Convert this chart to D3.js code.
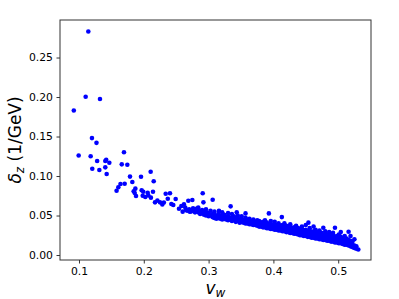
<!DOCTYPE html>
<html>
<head>
<meta charset="utf-8">
<script src="https://cdn.jsdelivr.net/npm/d3@7"></script>
<style>
  body { margin: 0; background: #fff; }
  svg { display: block; }
  text { font-family: "DejaVu Sans", sans-serif; fill: #000; }
</style>
</head>
<body>
<div id="chart"></div>
<script>
// tick values
const xTicks = [0.1, 0.2, 0.3, 0.4, 0.5];
const yTicks = [0.00, 0.05, 0.10, 0.15, 0.20, 0.25];

// scattered points at low v_w  [v_w, delta_z]
const sparsePoints = [
  [0.092,0.183],[0.0995,0.126],[0.1103,0.2004],[0.1144,0.283],[0.118,0.125],[0.120,0.148],
  [0.1205,0.1093],[0.127,0.142],[0.128,0.119],[0.1314,0.1076],[0.1324,0.1975],[0.1406,0.119],
  [0.142,0.1206],[0.1406,0.111],[0.1427,0.1025],[0.1468,0.1168],[0.158,0.0814],[0.1607,0.0857],
  [0.164,0.0899],[0.166,0.1148],[0.1694,0.130],[0.1705,0.0903],[0.1746,0.1143],[0.1787,0.0993],
  [0.1823,0.0924],[0.1844,0.0806],[0.187,0.084],[0.186,0.0785],[0.188,0.0747],[0.1957,0.099],
  [0.1967,0.0819],[0.1992,0.080],[0.1983,0.075],[0.2023,0.0734],[0.206,0.0789],[0.207,0.0755],
  [0.2106,0.1055],[0.2153,0.0933],[0.2142,0.080],[0.211,0.0726],[0.2173,0.0667],[0.221,0.069],
  [0.225,0.0667],[0.2286,0.0641],[0.231,0.0665],[0.2338,0.0776],[0.237,0.0713],[0.2404,0.0781],
  [0.2425,0.0646],[0.2455,0.0633],[0.2492,0.0709],[0.2543,0.0586],[0.258,0.062],[0.26,0.0549],
  [0.262,0.0641],[0.265,0.0570],[0.2687,0.0687],[0.271,0.0549],[0.2749,0.0696],[0.276,0.0590],
  [0.282,0.0587],[0.264,0.060],[0.267,0.056],[0.270,0.058],[0.273,0.055],[0.277,0.057],[0.279,0.054],
  [0.2909,0.0781],[0.292,0.0667],[0.3063,0.070],[0.334,0.0616],[0.316,0.056],[0.3434,0.054],
  [0.357,0.0527],[0.393,0.0527],[0.413,0.048],[0.454,0.041],[0.477,0.0346],[0.495,0.0346],
  [0.516,0.0295],[0.525,0.0199]
];

// dense band, one row per v_w: [v_w, delta_z values...]
const bandRows = [
  [0.280,0.055,0.058],[0.284,0.054,0.060],[0.287,0.056,0.052],[0.290,0.053,0.057],
  [0.293,0.051,0.055],[0.296,0.050,0.054,0.058],[0.300,0.049,0.053],[0.303,0.050,0.056],
  [0.306,0.048,0.052],[0.309,0.047,0.051,0.055],[0.312,0.049,0.046],[0.315,0.047,0.052],
  [0.318,0.046,0.050],[0.321,0.045,0.049,0.054],[0.324,0.046,0.051],[0.327,0.045,0.048],
  [0.330,0.044,0.049,0.053],[0.333,0.045,0.047],[0.336,0.043,0.047,0.052],[0.339,0.044,0.049],
  [0.342,0.042,0.046],[0.345,0.043,0.047,0.050],[0.348,0.041,0.045],[0.351,0.042,0.046,0.049],
  [0.354,0.041,0.044],[0.357,0.040,0.043,0.047],[0.360,0.040,0.045],[0.363,0.039,0.042,0.046],
  [0.366,0.039,0.043],[0.369,0.038,0.041,0.045],[0.372,0.038,0.042],[0.375,0.037,0.040,0.044],
  [0.378,0.036,0.039,0.043],[0.381,0.036,0.041],[0.384,0.035,0.038,0.042],[0.387,0.035,0.039,0.044],
  [0.390,0.034,0.037,0.041],[0.393,0.034,0.038],[0.396,0.033,0.036,0.040,0.043],[0.399,0.033,0.037],
  [0.402,0.032,0.035,0.039,0.042],[0.405,0.032,0.034,0.038],[0.408,0.031,0.035,0.040],
  [0.411,0.031,0.033,0.037],[0.414,0.030,0.034,0.038],[0.417,0.030,0.032,0.036,0.040],
  [0.420,0.029,0.033,0.037],[0.423,0.029,0.031,0.035],[0.426,0.028,0.032,0.036,0.039],
  [0.429,0.028,0.030,0.034],[0.432,0.027,0.031,0.035],[0.435,0.027,0.029,0.033,0.037],
  [0.438,0.026,0.030,0.034],[0.441,0.025,0.028,0.032],[0.444,0.025,0.029,0.033,0.036],
  [0.447,0.024,0.027,0.031],[0.450,0.024,0.028,0.032,0.038],[0.453,0.023,0.026,0.030],
  [0.456,0.023,0.027,0.031,0.034],[0.459,0.022,0.025,0.029],[0.462,0.022,0.026,0.030,0.036],
  [0.465,0.021,0.024,0.028,0.032],[0.468,0.021,0.025,0.029],[0.471,0.020,0.023,0.027,0.031],
  [0.474,0.020,0.024,0.028],[0.477,0.019,0.022,0.026],[0.480,0.019,0.023,0.027,0.030],
  [0.483,0.018,0.021,0.025],[0.486,0.018,0.022,0.026,0.029],[0.489,0.017,0.020,0.024],
  [0.492,0.017,0.021,0.025,0.028],[0.495,0.016,0.019,0.023],[0.498,0.016,0.020,0.024],
  [0.501,0.015,0.018,0.022,0.026],[0.504,0.015,0.019,0.023,0.029],[0.507,0.014,0.017,0.021],
  [0.510,0.013,0.016,0.020,0.024],[0.513,0.013,0.017,0.021],[0.516,0.012,0.015,0.019],
  [0.519,0.011,0.014,0.018,0.024],[0.522,0.010,0.013,0.017],[0.525,0.009,0.012],
  [0.528,0.008,0.011],[0.531,0.007]
];

let points = sparsePoints.slice();
bandRows.forEach(row => {
  row.slice(1).forEach(v => points.push([row[0], v]));
});

const width = 399, height = 299;
const plot = {left: 60, right: 371, top: 20, bottom: 260};

const svg = d3.select("#chart").append("svg")
  .attr("width", width)
  .attr("height", height);

const x = d3.scaleLinear().domain([0.0707, 0.5506]).range([plot.left, plot.right]);
const y = d3.scaleLinear().domain([-0.0063, 0.2975]).range([plot.bottom, plot.top]);

// points
svg.append("g")
  .selectAll("circle")
  .data(points)
  .join("circle")
    .attr("cx", d => x(d[0]))
    .attr("cy", d => y(d[1]))
    .attr("r", 2.3)
    .style("fill", "#0000ff");

// axes
const xAxis = svg.append("g")
  .attr("transform", `translate(0, ${plot.bottom})`)
  .call(d3.axisBottom(x).tickValues(xTicks).tickFormat(d3.format(".1f")).tickSize(3.5).tickPadding(3.5));

const yAxis = svg.append("g")
  .attr("transform", `translate(${plot.left}, 0)`)
  .call(d3.axisLeft(y).tickValues(yTicks).tickFormat(d3.format(".2f")).tickSize(3.5).tickPadding(3.5));

[xAxis, yAxis].forEach(a => {
  a.select(".domain").remove();
  a.selectAll("line").attr("stroke", "#000").attr("stroke-width", 0.8);
  a.selectAll("text")
    .style("font-family", "DejaVu Sans")
    .style("font-size", "10.8px")
    .attr("fill", "#000");
});

// frame
svg.append("rect")
  .attr("x", plot.left)
  .attr("y", plot.top)
  .attr("width", plot.right - plot.left)
  .attr("height", plot.bottom - plot.top)
  .attr("fill", "none")
  .attr("stroke", "#333")
  .attr("stroke-width", 1);

// x label: v_w
const xl = svg.append("text")
  .attr("x", (plot.left + plot.right) / 2)
  .attr("y", 294)
  .attr("text-anchor", "middle")
  .style("font-size", "17px");
xl.append("tspan").style("font-style", "italic").text("v");
xl.append("tspan").style("font-style", "italic").style("font-size", "12px").attr("dy", 3).text("w");

// y label: delta_z (1/GeV)
const yl = svg.append("text")
  .attr("transform", `translate(21, ${(plot.top + plot.bottom) / 2}) rotate(-90)`)
  .attr("text-anchor", "middle")
  .style("font-size", "17px");
yl.append("tspan").style("font-style", "italic").text("δ");
yl.append("tspan").style("font-style", "italic").style("font-size", "12px").attr("dy", 3).text("z");
yl.append("tspan").attr("dy", -3).text(" (1/GeV)");
</script>
</body>
</html>
